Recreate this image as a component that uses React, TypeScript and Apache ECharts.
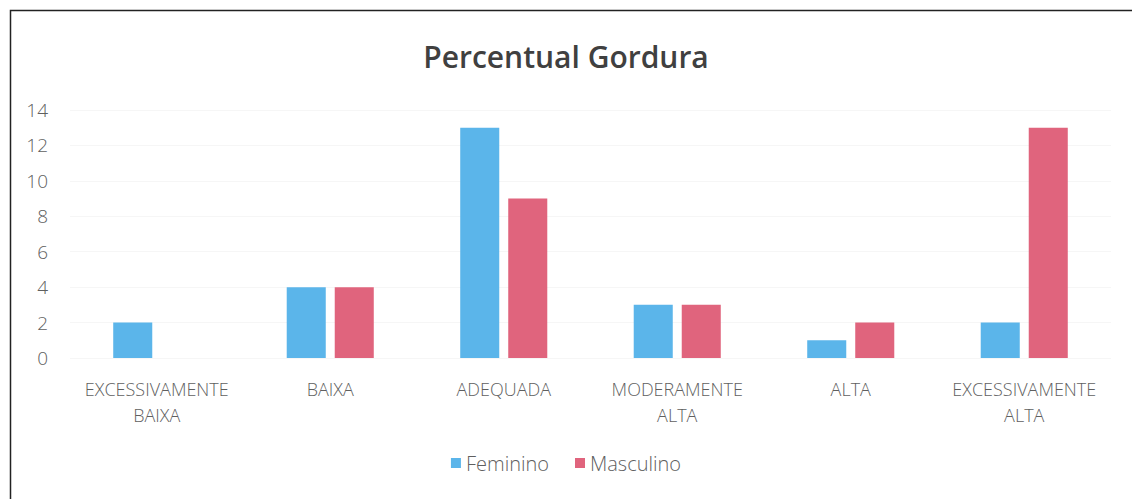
import React, { useEffect, useRef } from "react";
import * as echarts from "echarts";

const categories = [
  "EXCESSIVAMENTE\nBAIXA",
  "BAIXA",
  "ADEQUADA",
  "MODERAMENTE\nALTA",
  "ALTA",
  "EXCESSIVAMENTE\nALTA",
];
const feminino = [2, 4, 13, 3, 1, 2];
const masculino = [0, 4, 9, 3, 2, 13];

export default function App() {
  const ref = useRef<HTMLDivElement>(null);
  useEffect(() => {
    const chart = echarts.init(ref.current!, null, { renderer: "svg" });
    const font = "'Open Sans', 'DejaVu Sans', sans-serif";
    chart.setOption({
      animation: false,
      backgroundColor: "#ffffff",
      textStyle: { fontFamily: font },
      title: {
        text: "Percentual Gordura",
        left: "center",
        top: 36,
        textStyle: { fontSize: 30, fontWeight: 600, color: "#404040", fontFamily: font },
      },
      grid: { left: 70, right: 21, top: 110, bottom: 141, containLabel: false },
      legend: {
        bottom: 21,
        left: "center",
        itemWidth: 10,
        itemHeight: 10,
        itemGap: 26,
        icon: "rect",
        textStyle: { fontSize: 20, color: "#5f5f5f", fontFamily: font, fontWeight: 300 },
        data: ["Feminino", "Masculino"],
      },
      xAxis: {
        type: "category",
        data: categories,
        axisLine: { show: false },
        axisTick: { show: false },
        axisLabel: { fontSize: 18, color: "#5f5f5f", margin: 18, lineHeight: 26, interval: 0, fontWeight: 300 },
      },
      yAxis: {
        type: "value",
        min: 0,
        max: 14,
        interval: 2,
        axisLine: { show: false },
        axisTick: { show: false },
        splitLine: { show: true, lineStyle: { color: "#f6f6f6" } },
        axisLabel: { fontSize: 19, color: "#5f5f5f", margin: 22, fontWeight: 300 },
      },
      series: [
        {
          name: "Feminino",
          type: "bar",
          data: feminino,
          barWidth: "22.5%",
          barGap: "23%",
          itemStyle: { color: "#5BB5EA" },
        },
        {
          name: "Masculino",
          type: "bar",
          data: masculino,
          barWidth: "22.5%",
          itemStyle: { color: "#E0647D" },
        },
      ],
      graphic: [
        {
          type: "rect",
          shape: { x: 10.5, y: 10.5, width: 1130, height: 495 },
          style: { fill: "none", stroke: "#222222", lineWidth: 1.5 },
          silent: true,
        },
      ],
    });
    return () => chart.dispose();
  }, []);
  return (
    <div
      ref={ref}
      style={{ position: "absolute", left: 0, top: 0, width: 1132, height: 499 }}
    />
  );
}
